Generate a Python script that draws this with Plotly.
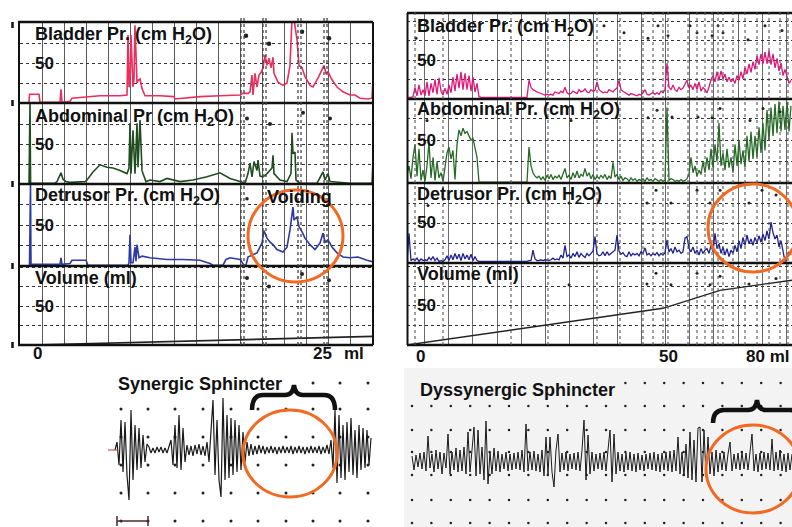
import plotly.graph_objects as go

W, H = 792, 527
FONT = "Liberation Sans, Arial, Helvetica, sans-serif"

# ---------------- data : left study (synergic) ----------------
left_time_bladder = [29, 29.5, 39, 40, 60, 61, 62, 70, 72, 85, 100, 120, 127, 128, 129, 130, 131, 133, 134, 135,
                     137, 138, 140, 142, 145, 160, 174, 175, 185, 200, 220, 240, 243, 248, 250, 252, 253, 255, 257, 259,
                     261, 263, 265, 267, 269, 271, 273, 274, 278, 283, 287, 290, 292, 294, 297, 299, 302, 305, 310, 313,
                     318, 322, 324, 326, 328, 332, 337, 343, 350, 355, 360, 368, 372, 373]
left_bladder = [1, 11, 11, 1, 1, 17, 1, 2, 6, 7, 9, 9, 10, 85, 20, 22, 85, 20, 30, 97,
                25, 28, 30, 18, 9, 9, 8, 5, 6, 8, 9, 10, 12, 12, 14, 35, 10, 37, 20, 35,
                38, 44, 60, 47, 56, 44, 57, 37, 26, 22, 25, 47, 105, 105, 79, 47, 44, 33, 22, 20,
                31, 41, 47, 37, 39, 29, 20, 14, 10, 10, 6, 5, 6, 31]

left_time_abdominal = [29, 30, 30.6, 40, 55, 57, 59, 61, 63, 66, 70, 85, 87, 93, 100, 107, 113, 120, 127, 129,
                       130, 131, 133, 135, 137, 138, 140, 142, 143, 146, 150, 160, 167, 173, 180, 193, 207, 220, 230, 240,
                       245, 248, 250, 252, 254, 257, 258, 260, 263, 267, 272, 273, 274, 280, 287, 291, 292, 293, 295, 296,
                       300, 317, 323, 325, 328, 330, 350, 372, 373]
left_abdominal = [1, 101, 1, 1, 1, 3, 8, 14, 6, 3, 2, 3, 5, 15, 24, 21, 20, 17, 13, 20,
                  76, 13, 67, 13, 76, 21, 80, 17, 13, 3, 5, 3, 7, 5, 3, 5, 9, 14, 7, 3,
                  1, 13, 26, 9, 28, 17, 30, 10, 9, 13, 20, 36, 13, 5, 3, 13, 64, 38, 40, 5,
                  1, 1, 15, 5, 13, 3, 1, 1, 30]

left_time_detrusor = [29.5, 30.5, 31, 40, 60, 61, 62, 70, 72, 86, 88, 128, 129, 130, 131, 133, 135, 136, 137, 139,
                      142, 150, 167, 183, 200, 210, 213, 223, 226, 230, 240, 244, 246, 248, 252, 257, 262, 264, 267, 270,
                      273, 277, 283, 287, 290, 293, 294, 297, 299, 302, 305, 310, 315, 320, 323, 325, 328, 332, 337, 343,
                      350, 358, 367, 373]
left_detrusor = [1, 100, 2, 2, 2, 10, 2, 3, 7, 7, 1, 1, 4, 38, 4, 4, 23, 6, 26, 10,
                 12, 10, 8, 8, 7, 3, 1, 1, 8, 10, 8, 1, 1, 11, 13, 16, 28, 43, 34, 29,
                 26, 20, 17, 23, 44, 72, 56, 60, 48, 42, 34, 26, 20, 28, 40, 29, 32, 23, 16, 11,
                 10, 11, 7, 5]

left_time_volume = [33, 373]
left_volume = [0, 11]

left_event_times = [241, 244, 263, 266, 298, 301, 324, 327]
left_marks_bladder_t, left_marks_bladder_v = [246, 269, 302, 329], [84, 74, 89, 81]
left_marks_abd_t, left_marks_abd_v = [247, 270, 303, 330], [82, 75, 89, 82]
left_marks_det_t, left_marks_det_v = [247], [82]
left_marks_vol_t, left_marks_vol_v = [247, 269, 302, 329], [86, 75, 91, 83]

# ---------------- data : right study (dyssynergic), sampled every 2 s from t = 407 ----------------
right_t0, right_dt = 407, 2
right_bladder = [2, 2, 2, 3, 15, 4, 18, 5, 12, 4,
                 22, 4, 20, 8, 25, 6, 27, 10, 5, 14,
                 6, 18, 8, 28, 10, 32, 14, 35, 12, 33,
                 12, 30, 10, 28, 9, 20, 3, 2, 2, 2,
                 2, 2, 2, 2, 2, 2, 2, 2, 2, 2,
                 2, 2, 2, 2, 2, 2, 2, 2, 2, 2,
                 2, 24, 15, 12, 10, 9, 8, 7, 6, 5,
                 6, 5, 6, 5, 9, 8, 7, 10, 8, 15,
                 8, 6, 7, 10, 8, 7, 12, 9, 10, 13,
                 9, 8, 12, 10, 11, 22, 12, 10, 8, 9,
                 8, 12, 10, 9, 12, 14, 24, 12, 10, 8,
                 6, 5, 7, 6, 5, 4, 6, 5, 8, 12,
                 6, 5, 7, 8, 6, 8, 6, 10, 8, 12,
                 46, 15, 12, 18, 12, 10, 15, 12, 14, 20,
                 24, 14, 18, 12, 20, 12, 22, 10, 15, 12,
                 8, 15, 25, 30, 22, 35, 24, 36, 26, 32,
                 22, 28, 22, 26, 20, 30, 24, 35, 26, 40,
                 32, 45, 34, 48, 38, 55, 44, 58, 45, 60,
                 45, 62, 44, 58, 40, 52, 36, 46, 30, 38,
                 28, 20, 24]
right_abdominal = [10, 20, 5, 30, 45, 8, 40, 3, 15, 2,
                   20, 48, 6, 30, 3, 25, 6, 12, 2, 20,
                   35, 42, 28, 38, 4, 45, 62, 55, 64, 58,
                   60, 55, 50, 52, 40, 30, 1, 1, 1, 1,
                   1, 1, 1, 1, 1, 1, 1, 1, 1, 1,
                   1, 1, 1, 1, 1, 1, 1, 1, 1, 1,
                   1, 42, 20, 12, 8, 6, 8, 4, 7, 3,
                   9, 5, 10, 4, 8, 6, 9, 4, 12, 17,
                   6, 9, 4, 12, 6, 14, 6, 10, 8, 17,
                   8, 12, 5, 10, 4, 8, 5, 9, 6, 10,
                   4, 8, 5, 24, 7, 10, 4, 8, 3, 6,
                   5, 2, 6, 3, 5, 2, 4, 3, 5, 2,
                   6, 3, 4, 2, 5, 3, 2, 4, 2, 3,
                   88, 3, 5, 4, 2, 3, 2, 4, 2, 3,
                   5, 10, 30, 12, 20, 8, 15, 10, 25, 12,
                   30, 15, 40, 18, 45, 25, 70, 20, 35, 15,
                   40, 18, 30, 12, 45, 20, 50, 22, 38, 18,
                   55, 25, 60, 28, 55, 30, 65, 35, 70, 38,
                   85, 50, 88, 55, 92, 58, 95, 60, 90, 62,
                   95, 60, 90]
right_detrusor = [2, 37, 3, 5, 3, 6, 2, 5, 3, 4,
                  3, 7, 4, 8, 3, 6, 2, 3, 2, 4,
                  9, 3, 10, 4, 12, 5, 11, 3, 12, 5,
                  10, 4, 11, 3, 8, 3, 2, 2, 2, 2,
                  2, 2, 2, 2, 2, 2, 2, 2, 2, 2,
                  2, 2, 2, 2, 2, 2, 2, 2, 2, 2,
                  2, 3, 3, 16, 5, 3, 3, 4, 3, 4,
                  3, 3, 4, 6, 4, 5, 4, 10, 6, 22,
                  8, 10, 6, 12, 8, 14, 7, 12, 9, 7,
                  12, 9, 12, 15, 33, 12, 9, 10, 14, 9,
                  14, 10, 12, 14, 16, 35, 15, 11, 13, 9,
                  8, 14, 9, 12, 10, 12, 9, 14, 12, 19,
                  10, 12, 9, 12, 10, 13, 9, 12, 10, 13,
                  29, 14, 18, 12, 20, 14, 16, 12, 14, 31,
                  33, 18, 14, 20, 12, 16, 10, 18, 12, 16,
                  18, 12, 22, 14, 37, 18, 24, 12, 20, 10,
                  18, 8, 16, 12, 22, 14, 28, 18, 32, 22,
                  35, 24, 30, 22, 32, 25, 34, 26, 36, 28,
                  40, 30, 51, 38, 30, 35, 20, 28, 12, 2,
                  8, 14, 10]
right_time_volume = [407, 567, 663, 720, 792]
right_volume = [0, 29, 47, 70, 83]

right_event_times = [415, 443, 511, 548, 597, 620, 643, 653, 663, 668, 688, 697, 705, 712, 718, 723,
                     733, 745, 757, 769, 780, 788]
right_marks_bladder_t = [416, 604, 624, 648, 658, 668, 690, 697, 712, 718, 723, 748, 765, 782]
right_marks_bladder_v = [78, 94, 85, 78, 94, 81, 94, 85, 81, 94, 85, 76, 94, 88]
right_marks_abd_t = [427, 571, 648, 657, 672, 698, 712, 720, 750, 763, 780]
right_marks_abd_v = [73, 73, 76, 85, 77, 77, 76, 87, 73, 87, 83]
right_marks_det_t = [428, 569, 647, 656, 671, 697, 710, 720, 749, 762, 776]
right_marks_det_v = [72, 75, 75, 91, 75, 91, 75, 91, 75, 91, 85]
right_marks_vol_t = [569, 647, 656, 671, 697, 710, 720, 749, 776]
right_marks_vol_v = [77, 78, 92, 77, 92, 77, 88, 78, 85]

# ---------------- data : sphincter EMG ----------------
emg_left_t0, emg_left_dt = 115, 2
emg_left = [0,
            8, -15, 30, -22, 28, -25, -50, 40, -30, 25, -20, 22, -18, 15, -12, 6,
            3, -3, 2, -3, 3, -2, 3, -3, 2, -3, 3,
            10, -15, 25, -18, 35, -20, 22, -12,
            5, -5, 4, -6, 5, -4, 6, -5, 4, -6,
            8, -12, 20, 50, -25, 30, -30, -47, 52, -30, 35, -28, 32, -25, 30, -22, 25, -20, 18, -12,
            8, -6, 6, -5, 4, -4, 5, -3, 4, -4, 3, -3, 4, -3, 3, -4, 3, -3, 4, -3,
            3, -3, 4, -4, 3, -3, 4, -3, 3, -4, 3, -3, 4, -3, 3, -3, 4, -4, 3, -3, 5, -4,
            10, -18, 40, -33, 35, -28, 25, -30, 28, -22, 32, -25, 20, -28, 25, -20, 22, -18, 20, -15, 12]
emg_right_t0, emg_right_dt = 412, 2
emg_right = [6, -8, 7, -5, 9, -7, 10, -9, 26, -6,
             8, -10, 12, -7, 10, -12, 9, -6, 28, -12,
             10, -8, 14, -10, 12, -9, 15, -12, 30, -10,
             12, 35, -14, 32, -12, 15, -18, 41, -22, 10,
             -12, 14, -9, 11, -10, 8, -7, 10, -9, 8,
             -8, 9, -7, 10, -8, 12, -10, 38, -9, 10,
             -8, 11, -9, 8, -10, 12, -14, 25, -12, 25,
             -10, -25, 12, 28, -10, 9, -8, 10, -9, 8,
             -7, 9, -8, 10, -9, 12, 42, -18, 27, -12,
             10, -9, 8, -7, 9, -8, 10, -9, 12, 32,
             -20, 28, -12, 10, -9, 8, -10, 9, -8, 10,
             -9, 8, -10, 9, -8, 7, -9, 8, -7, 9,
             -8, 10, -9, 8, -10, 9, -8, 10, -9, 11,
             -10, 12, -9, 25, -12, 10, -14, 18, -16, 30,
             -18, 22, -20, 34, 35, -20, 32, -15, 25, -12,
             10, -14, 12, -10, 9, -8, 10, -9, 8, 20,
             -9, 8, -7, 9, -8, 10, -7, 9, -8, 10,
             28, -9, 8, -10, 9, -8, 10, -7, 9, -8,
             23, -9, 10, -8, 12, -9, 8, -10, 9, -8,
             8]

# chart-paper dot grids of the EMG strips
emg_left_dot_cols = [121, 148, 175, 203, 231, 258, 286, 313, 340, 368]
emg_left_dot_rows = [41, 13, -15, -43, -71]
emg_left_top_cols, emg_left_top_row = [313, 340, 368], 67
emg_right_dot_cols = [412, 431.4, 450.8, 470.2, 489.6, 509, 528.4, 547.8, 567.2, 586.6,
                      606, 625.4, 644.8, 664.2, 683.6, 703, 722.4, 741.8, 761.2, 780.6]
emg_right_dot_rows = [56, 32, 10, -13, -38, -61]
emg_right_top_row = 79

# ---------------- helpers ----------------
def fx(p):
    return p / W


def fy(p):
    return 1 - p / H


right_time = [right_t0 + right_dt * i for i in range(len(right_bladder))]
emg_left_time = [emg_left_t0 + emg_left_dt * i for i in range(len(emg_left))]
emg_right_time = [emg_right_t0 + emg_right_dt * i for i in range(len(emg_right))]

fig = go.Figure()


def line(x, y, xa, ya, color, width):
    fig.add_trace(go.Scatter(x=x, y=y, xaxis=xa, yaxis=ya, mode="lines",
                             line=dict(color=color, width=width, shape="linear"),
                             hoverinfo="skip", showlegend=False))


def marks(x, y, xa, ya, size=3.5):
    fig.add_trace(go.Scatter(x=x, y=y, xaxis=xa, yaxis=ya, mode="markers",
                             marker=dict(color="#222", size=size, line=dict(width=0)),
                             hoverinfo="skip", showlegend=False))


# left traces
line(left_time_bladder, left_bladder, "x", "y", "#ea2f5e", 1.6)
line(left_time_abdominal, left_abdominal, "x", "y2", "#1f4d1f", 1.6)
line(left_time_detrusor, left_detrusor, "x", "y3", "#2e3aa6", 1.6)
line(left_time_volume, left_volume, "x", "y4", "#222", 1.6)
marks(left_marks_bladder_t, left_marks_bladder_v, "x", "y", 4.5)
marks(left_marks_abd_t, left_marks_abd_v, "x", "y2", 4)
marks(left_marks_det_t, left_marks_det_v, "x", "y3", 3.5)
marks(left_marks_vol_t, left_marks_vol_v, "x", "y4", 4)

# right traces
line(right_time, right_bladder, "x2", "y5", "#e0177a", 1.3)
line(right_time, right_abdominal, "x2", "y6", "#256b25", 1.3)
line(right_time, right_detrusor, "x2", "y7", "#1f2290", 1.3)
line(right_time_volume, right_volume, "x2", "y8", "#222", 1.4)
marks(right_marks_bladder_t, right_marks_bladder_v, "x2", "y5", 3)
marks(right_marks_abd_t, right_marks_abd_v, "x2", "y6", 3)
marks(right_marks_det_t, right_marks_det_v, "x2", "y7", 3)
marks(right_marks_vol_t, right_marks_vol_v, "x2", "y8", 3)

# EMG dot grids
lx = [c for r in emg_left_dot_rows for c in emg_left_dot_cols] + emg_left_top_cols
ly = [r for r in emg_left_dot_rows for c in emg_left_dot_cols] + [emg_left_top_row] * len(emg_left_top_cols)
marks(lx, ly, "x3", "y9", 3)
rtop = [c for c in emg_right_dot_cols if c > 615]
rx = [c for r in emg_right_dot_rows for c in emg_right_dot_cols] + rtop
ry = [r for r in emg_right_dot_rows for c in emg_right_dot_cols] + [emg_right_top_row] * len(rtop)
marks(rx, ry, "x4", "y10", 2.5)

# EMG traces
line(emg_left_time, emg_left, "x3", "y9", "#1a1a1a", 1.2)
line(emg_right_time, emg_right, "x4", "y10", "#1a1a1a", 1.0)

# ---------------- axes ----------------
left_channels = [(22, 103, 101.25), (103, 184, 101.25), (184, 266, 100), (266, 345, 101.3)]
right_channels = [(13, 99, 110.3), (99, 183, 98), (183, 263, 100), (263, 345, 105)]

layout = dict(
    width=W, height=H, margin=dict(l=0, r=0, t=0, b=0),
    paper_bgcolor="white", plot_bgcolor="rgba(0,0,0,0)", showlegend=False,
    xaxis=dict(domain=[fx(20), fx(373)], range=[20, 373], showgrid=True, tick0=42, dtick=22.07,
               gridcolor="#5a5a5a", gridwidth=1, showticklabels=False, zeroline=False, ticks="",
               showline=False, anchor="y4"),
    xaxis2=dict(domain=[fx(407), 1], range=[407, 792], showgrid=True, tick0=497, dtick=24.1,
                gridcolor="#6a6a6a", gridwidth=1, showticklabels=False, zeroline=False, ticks="",
                showline=False, anchor="y8"),
    xaxis3=dict(domain=[fx(100), fx(380)], range=[100, 380], visible=False, anchor="y9"),
    xaxis4=dict(domain=[fx(400), 1], range=[400, 792], visible=False, anchor="y10"),
    yaxis9=dict(domain=[0, fy(375)], range=[-77, 75], visible=False, anchor="x3"),
    yaxis10=dict(domain=[0, fy(370)], range=[-65, 92], visible=False, anchor="x4"),
)
for i, (top, bot, rmax) in enumerate(left_channels):
    layout["yaxis" + ("" if i == 0 else str(i + 1))] = dict(
        domain=[fy(bot), fy(top)], range=[0, rmax], anchor="x", dtick=25, showgrid=True,
        griddash="dot", gridcolor="#333", gridwidth=1, showticklabels=False, zeroline=False, ticks="")
for i, (top, bot, rmax) in enumerate(right_channels):
    layout["yaxis" + str(i + 5)] = dict(
        domain=[fy(bot), fy(top)], range=[0, rmax], anchor="x2", dtick=25, showgrid=True,
        griddash="dot", gridcolor="#333", gridwidth=1, showticklabels=False, zeroline=False, ticks="")

# ---------------- shapes ----------------
shapes = []
# light background of right EMG strip
shapes.append(dict(type="rect", xref="paper", yref="paper", x0=fx(404), x1=1, y0=0, y1=fy(368),
                   fillcolor="#f3f3f3", line=dict(width=0), layer="below"))


def hline(x0, x1, y, w=2.5, color="#111", dash="solid"):
    shapes.append(dict(type="line", xref="paper", yref="paper", x0=fx(x0), x1=fx(x1), y0=fy(y), y1=fy(y),
                       line=dict(color=color, width=w, dash=dash)))


def vline(x, y0, y1, w=2, color="#111", dash="solid"):
    shapes.append(dict(type="line", xref="paper", yref="paper", x0=fx(x), x1=fx(x), y0=fy(y0), y1=fy(y1),
                       line=dict(color=color, width=w, dash=dash)))


for top, bot, _ in left_channels:
    hline(18, 373, top)
hline(18, 373, 345)
vline(19, 22, 345, 2)
vline(373, 22, 345, 2)
for y in [25, 103, 184, 266, 345]:
    vline(12.5, y - 3, y + 3, 2.5)
for top, bot, _ in right_channels:
    hline(407, 792, top)
hline(407, 792, 345)
vline(407.5, 13, 345, 2)

# event marker lines
for t in left_event_times:
    shapes.append(dict(type="line", xref="x", yref="paper", x0=t, x1=t, y0=fy(345), y1=fy(16),
                       line=dict(color="#444", width=1.3, dash="dot")))
for t in right_event_times:
    shapes.append(dict(type="line", xref="x2", yref="paper", x0=t, x1=t, y0=fy(345), y1=fy(10),
                       line=dict(color="#555", width=1.1, dash="dot")))

# orange circles
ORANGE = "#f26a21"
for (x0, y0, x1, y1) in [(248, 190, 343, 282), (708, 184, 798, 272), (243, 410, 337, 497), (706, 425, 800, 513)]:
    shapes.append(dict(type="circle", xref="paper", yref="paper", x0=fx(x0), x1=fx(x1), y0=fy(y1), y1=fy(y0),
                       line=dict(color=ORANGE, width=3)))


def P(x, y):
    return f"{fx(x):.5f},{fy(y):.5f}"


brace_l = (f"M {P(252, 410)} Q {P(252, 395)} {P(263, 395)} L {P(285, 395)} Q {P(293, 395)} {P(294, 385)} "
           f"Q {P(295, 395)} {P(303, 395)} L {P(324, 395)} Q {P(335, 395)} {P(335, 410)}")
brace_r = (f"M {P(713, 423)} Q {P(713, 410)} {P(724, 410)} L {P(748, 410)} Q {P(756, 410)} {P(757, 400)} "
           f"Q {P(758, 410)} {P(766, 410)} L {P(790, 410)} Q {P(801, 410)} {P(801, 423)}")
for pth in (brace_l, brace_r):
    shapes.append(dict(type="path", xref="paper", yref="paper", path=pth, line=dict(color="#111", width=4.5)))

# scale bar + red baseline tick on left EMG
hline(117, 148, 521, 1.5, "#4a2a2a")
vline(117, 516, 526, 1.5, "#4a2a2a")
vline(148, 516, 526, 1.5, "#4a2a2a")
hline(108, 118, 450, 1, "#c04040")

layout["shapes"] = shapes

# ---------------- text ----------------
annotations = []


def txt(text, x, y, size=18, anchor="left", yref="paper", ypos=None):
    annotations.append(dict(text=f"<b>{text}</b>", x=fx(x), xref="paper", xanchor=anchor,
                            y=(fy(y) if ypos is None else ypos), yref=yref, yanchor="middle",
                            showarrow=False, font=dict(family=FONT, size=size, color="#111")))


left_labels = ["Bladder Pr. (cm H<sub>2</sub>O)", "Abdominal Pr (cm H<sub>2</sub>O)",
               "Detrusor Pr. (cm H<sub>2</sub>O)", "Volume (ml)"]
right_labels = ["Bladder Pr. (cm H<sub>2</sub>O)", "Abdominal Pr. (cm H<sub>2</sub>O)",
                "Detrusor Pr. (cm H<sub>2</sub>O)", "Volume (ml)"]
left_label_y = [35, 117, 197, 278]
right_label_y = [27, 110, 196, 274]
for i, (lab, y) in enumerate(zip(left_labels, left_label_y)):
    txt(lab, 33, y)
    txt("50", 33, 0, 17, yref="y" + ("" if i == 0 else str(i + 1)), ypos=50)
for i, (lab, y) in enumerate(zip(right_labels, right_label_y)):
    txt(lab, 415, y)
    txt("50", 415, 0, 17, yref="y" + str(i + 5), ypos=50)
txt("Voiding", 265, 197)

txt("0", 37, 353, 17, anchor="center")
txt("25", 322, 353, 17, anchor="center")
txt("ml", 354, 353, 17, anchor="center")
txt("0", 420, 356, 17, anchor="center")
txt("50", 668, 356, 17, anchor="center")
txt("80 ml", 791, 356, 17, anchor="right")

txt("Synergic Sphincter", 116, 384, 18)
txt("Dyssynergic Sphincter", 418, 390, 18)

layout["annotations"] = annotations
fig.update_layout(**layout)

fig.write_html("out.html", config={"displayModeBar": False},
               post_script="document.body.style.margin='0';document.body.style.overflow='hidden';")
